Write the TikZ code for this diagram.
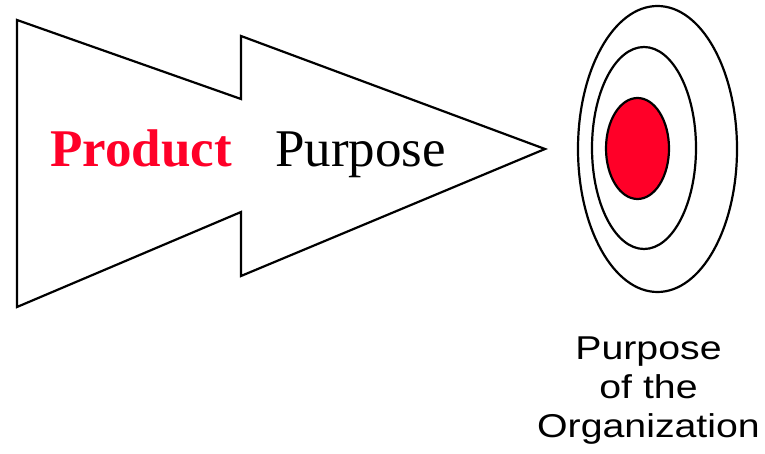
\documentclass[tikz,border=0pt]{standalone}
\usepackage{fontspec}
\setmainfont{Liberation Serif}
\newfontfamily\labelfont{Liberation Sans}
\definecolor{targetred}{RGB}{255,0,40}
\begin{document}
\begin{tikzpicture}[x=1pt,y=-1pt,
  outline/.style={draw=black,line width=2.2pt,line join=miter},
  ring/.style={draw=black,line width=2.2pt},
  bigtext/.style={font=\fontsize{53}{60}\selectfont,inner sep=0pt,anchor=base west},
  caption/.style={font=\labelfont\fontsize{33}{39}\selectfont,align=center,inner sep=0pt,anchor=base,xscale=1.19}]
\useasboundingbox (0,0) rectangle (765,454);
% double arrow
\draw[outline] (17,20) -- (241,99) -- (241,36) -- (545,149) -- (241,276) -- (241,212) -- (17,307) -- cycle;
% target
\draw[ring] (657.5,149) ellipse [x radius=79.5, y radius=143];
\draw[ring] (644,148) ellipse [x radius=52, y radius=101];
\draw[ring,fill=targetred] (637.5,148.5) ellipse [x radius=31.5, y radius=50.5];
% texts
\node[bigtext,text=targetred,font=\bfseries\fontsize{53}{60}\selectfont] (product) at (50,167) {Product};
\node[bigtext] (purpose) at (275,167) {Purpose};
\node[caption] (org) at (648.5,437) {Purpose\\of the\hspace*{0.28em}\\Organization};
\end{tikzpicture}
\end{document}
